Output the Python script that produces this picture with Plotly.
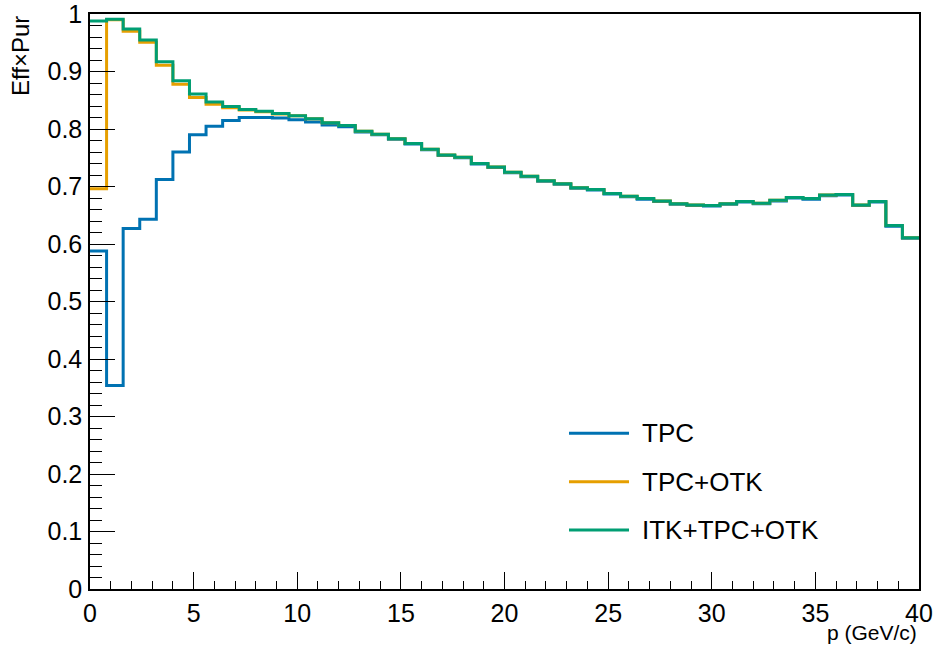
import numpy as np
import plotly.graph_objects as go

# ---- data (50 bins of 0.8 GeV/c from 0 to 40) ----
bin_edges = [round(0.8 * i, 1) for i in range(51)]

tpc = [0.588, 0.354, 0.627, 0.643, 0.712, 0.760, 0.790, 0.805, 0.815, 0.820,
       0.820, 0.819, 0.816, 0.812, 0.807, 0.804, 0.795, 0.790, 0.782, 0.774,
       0.764, 0.754, 0.750, 0.739, 0.733, 0.724, 0.717, 0.709, 0.704, 0.697,
       0.694, 0.687, 0.682, 0.678, 0.674, 0.669, 0.667, 0.666, 0.669, 0.673,
       0.670, 0.675, 0.680, 0.678, 0.684, 0.685, 0.667, 0.673, 0.631, 0.610]

tpc_otk = [0.696, 0.990, 0.970, 0.951, 0.911, 0.878, 0.855, 0.843, 0.837, 0.833,
           0.830, 0.826, 0.823, 0.818, 0.811, 0.806, 0.796, 0.791, 0.783, 0.775,
           0.765, 0.755, 0.751, 0.740, 0.734, 0.725, 0.718, 0.710, 0.705, 0.698,
           0.695, 0.688, 0.683, 0.679, 0.675, 0.670, 0.668, 0.667, 0.670, 0.674,
           0.671, 0.676, 0.681, 0.679, 0.685, 0.686, 0.668, 0.674, 0.632, 0.611]

itk_tpc_otk = [0.988, 0.991, 0.974, 0.955, 0.917, 0.884, 0.861, 0.847, 0.839, 0.834,
               0.831, 0.827, 0.823, 0.818, 0.811, 0.806, 0.796, 0.791, 0.783, 0.775,
               0.765, 0.755, 0.751, 0.740, 0.734, 0.725, 0.718, 0.710, 0.705, 0.698,
               0.695, 0.688, 0.683, 0.679, 0.675, 0.670, 0.668, 0.667, 0.670, 0.674,
               0.671, 0.676, 0.681, 0.679, 0.685, 0.686, 0.668, 0.674, 0.632, 0.611]

series_names = ["TPC", "TPC+OTK", "ITK+TPC+OTK"]
series_values = [tpc, tpc_otk, itk_tpc_otk]
series_colors = ["#0072B2", "#E69F00", "#009E73"]

x_tick_vals = [0, 5, 10, 15, 20, 25, 30, 35, 40]
y_tick_vals = [0, 0.1, 0.2, 0.3, 0.4, 0.5, 0.6, 0.7, 0.8, 0.9, 1.0]
y_tick_text = ["0", "0.1", "0.2", "0.3", "0.4", "0.5", "0.6", "0.7", "0.8", "0.9", "1"]

FONT = "Liberation Sans, Arial, Helvetica, sans-serif"

fig = go.Figure()
for name, vals, col in zip(series_names, series_values, series_colors):
    xs = list(bin_edges)
    ys = list(vals) + [vals[-1]]
    fig.add_trace(go.Scatter(x=xs, y=ys, mode="lines", name=name,
                             line=dict(color=col, width=3, shape="hv"),
                             showlegend=False, cliponaxis=True))

# ---- manual ROOT-style legend ----
leg_y = [0.2708, 0.1866, 0.1026]
for name, col, yy in zip(series_names, series_colors, leg_y):
    fig.add_shape(type="line", xref="paper", yref="paper",
                  x0=0.5778, x1=0.6502, y0=yy, y1=yy,
                  line=dict(color=col, width=3))
    fig.add_annotation(xref="paper", yref="paper", x=0.664, y=yy,
                       text=name, showarrow=False, xanchor="left", yanchor="middle",
                       font=dict(family=FONT, size=26, color="black"))

# axis titles (ROOT style: aligned to the axis end)
fig.add_annotation(xref="paper", yref="paper", x=1.0, y=-0.0748,
                   text="p (GeV/c)", showarrow=False, xanchor="right", yanchor="middle",
                   font=dict(family=FONT, size=21, color="black"))
fig.add_annotation(xref="paper", yref="paper", x=-0.0844, y=1.0,
                   text="Eff×Pur", showarrow=False, textangle=-90,
                   xanchor="center", yanchor="top",
                   font=dict(family=FONT, size=24, color="black"))

fig.update_layout(
    width=935, height=647, autosize=False,
    margin=dict(l=90, r=16, t=14, b=58, pad=0, autoexpand=False),
    paper_bgcolor="white", plot_bgcolor="white",
    font=dict(family=FONT, color="black"),
    showlegend=False,
)
fig.update_xaxes(range=[0, 40], tickvals=x_tick_vals, ticks="inside", ticklen=17,
                 tickwidth=1, tickcolor="black", automargin=False,
                 ticklabeloverflow="allow",
                 minor=dict(dtick=1, ticks="inside", ticklen=8.5, tickcolor="black", tickwidth=1),
                 showline=True, linecolor="black", linewidth=1.5, mirror=True,
                 showgrid=False, zeroline=False,
                 tickfont=dict(family=FONT, size=25, color="black"),
                 ticklabelstandoff=1)
fig.update_yaxes(range=[0, 1], tickvals=y_tick_vals, ticktext=y_tick_text,
                 ticks="inside", ticklen=25, tickwidth=1, tickcolor="black", automargin=False,
                 ticklabeloverflow="allow",
                 minor=dict(dtick=0.02, ticks="inside", ticklen=12.5, tickcolor="black", tickwidth=1),
                 showline=True, linecolor="black", linewidth=1.5, mirror=True,
                 showgrid=False, zeroline=False,
                 tickfont=dict(family=FONT, size=25, color="black"),
                 ticklabelstandoff=1)

fig.write_html("out.html")
